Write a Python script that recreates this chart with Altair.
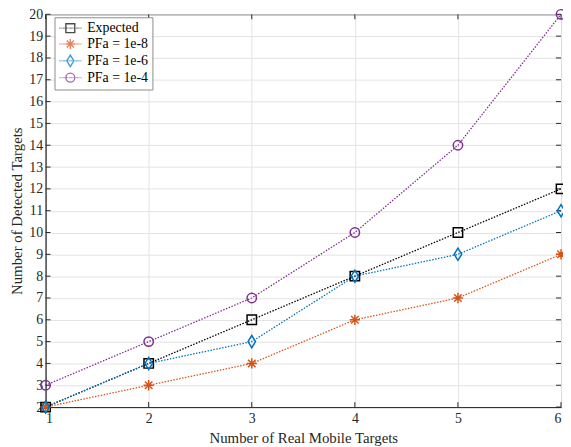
import re
import altair as alt
import pandas as pd

x_vals = [1, 2, 3, 4, 5, 6]
y_ticks = list(range(2, 21))
series_names = ["Expected", "PFa = 1e-8", "PFa = 1e-6", "PFa = 1e-4"]
expected = [2, 4, 6, 8, 10, 12]
pfa_1e8 = [2, 3, 4, 6, 7, 9]
pfa_1e6 = [2, 4, 5, 8, 9, 11]
pfa_1e4 = [3, 5, 7, 10, 14, 20]
colors = ["#000000", "#D95319", "#0072BD", "#7E2F8E"]

rows = []
for name, vals in zip(series_names, [expected, pfa_1e8, pfa_1e6, pfa_1e4]):
    for xv, yv in zip(x_vals, vals):
        rows.append({"x": xv, "y": yv, "series": name})
df = pd.DataFrame(rows)
xt = pd.DataFrame({"x": x_vals})
yt = pd.DataFrame({"y": y_ticks})

sq = "M-1,-1H1V1H-1Z"
ast = "M0,-1.1V1.1M-1.1,0H1.1M-0.8,-0.8L0.8,0.8M-0.8,0.8L0.8,-0.8"
dia = "M0,-1.3L0.8,0L0,1.3L-0.8,0Z"
circ = "M1,0A1,1,0,1,1,-1,0A1,1,0,1,1,1,0Z"
markers = [sq, ast, dia, circ]


def small(p, k):
    res = ""
    cmd = None
    argi = 0
    for t in re.findall(r"[A-Za-z]|-?\d*\.?\d+|,", p):
        if re.match(r"[A-Za-z]", t):
            cmd = t
            argi = 0
            res += t
        elif t == ",":
            res += ","
        else:
            v = float(t)
            if cmd == "A" and (argi % 7) in (2, 3, 4):
                res += t
            else:
                res += f"{v * k:.3f}"
            argi += 1
            if cmd in ("H", "V"):
                res += " "
            elif cmd in ("M", "L") and argi % 2 == 0:
                res += " "
    return res


# legend symbol: dotted line spanning -2.2..2.2 units plus a marker
dots = "".join(f"M{-2.2 + i * 0.24:.3f},0H{-2.2 + i * 0.24 + 0.12:.3f}" for i in range(19))
legend_paths = [dots + small(m, 0.9) for m in markers]

color_scale = alt.Scale(domain=series_names, range=colors)
xs = alt.Scale(domain=[1, 6], nice=False)
ys = alt.Scale(domain=[2, 20], nice=False)
x_axis = alt.Axis(values=x_vals, title="Number of Real Mobile Targets", grid=True,
                  format="d", ticks=False, labelOverlap=False)
y_axis = alt.Axis(values=y_ticks, title="Number of Detected Targets",
                  grid=True, format="d", ticks=False, labelOverlap=False)

base = alt.Chart(df)

lines = base.mark_line(strokeDash=[1.5, 1.5], strokeWidth=1.3).encode(
    x=alt.X("x:Q", scale=xs, axis=x_axis),
    y=alt.Y("y:Q", scale=ys, axis=y_axis),
    color=alt.Color("series:N", scale=color_scale, legend=None),
)

points = base.mark_point(filled=False, strokeWidth=1.5, size=90, opacity=1).encode(
    x=alt.X("x:Q", scale=xs, axis=x_axis),
    y=alt.Y("y:Q", scale=ys, axis=y_axis),
    color=alt.Color("series:N", scale=color_scale, legend=None),
    shape=alt.Shape("series:N", scale=alt.Scale(domain=series_names, range=markers), legend=None),
)

legend_layer = base.transform_filter("false").mark_point(filled=False).encode(
    x=alt.X("x:Q", scale=xs, axis=x_axis),
    y=alt.Y("y:Q", scale=ys, axis=y_axis),
    stroke=alt.Stroke("series:N", scale=alt.Scale(domain=series_names, range=colors),
                      legend=alt.Legend(title=None, orient="none", legendX=9, legendY=3,
                                        symbolSize=100, symbolStrokeWidth=1.4,
                                        labelFont="Liberation Serif", labelFontSize=14,
                                        labelColor="#000000", rowPadding=0,
                                        symbolOffset=5, labelOffset=10,
                                        strokeColor="#8c8c8c", fillColor="white",
                                        padding=4, offset=0)),
    shape=alt.Shape("series:N", scale=alt.Scale(domain=series_names, range=legend_paths)),
)

tick_color = "#262626"
y_left = alt.Chart(yt).mark_rule(color=tick_color, strokeWidth=1).encode(
    y=alt.Y("y:Q", scale=ys, axis=y_axis), x=alt.value(0), x2=alt.value(5))
y_right = alt.Chart(yt).mark_rule(color=tick_color, strokeWidth=1).encode(
    y=alt.Y("y:Q", scale=ys, axis=y_axis), x=alt.value(516), x2=alt.value(521))
x_bot = alt.Chart(xt).mark_rule(color=tick_color, strokeWidth=1).encode(
    x=alt.X("x:Q", scale=xs, axis=x_axis), y=alt.value(397), y2=alt.value(392))
x_top = alt.Chart(xt).mark_rule(color=tick_color, strokeWidth=1).encode(
    x=alt.X("x:Q", scale=xs, axis=x_axis), y=alt.value(0), y2=alt.value(5))

chart = alt.layer(lines, y_left, y_right, x_bot, x_top, points, legend_layer).resolve_scale(
    shape="independent", stroke="independent"
).properties(
    width=521, height=397,
    autosize=alt.AutoSizeParams(type="none"),
    padding={"left": 38, "top": 4, "right": 2, "bottom": 40},
).configure_axis(
    labelFont="Liberation Serif", labelFontSize=14, labelColor="#262626",
    titleFont="Liberation Serif", titleFontSize=15, titleColor="#262626", titleFontWeight="normal",
    domainColor="#262626", gridColor="#e3e3e3", gridOpacity=1, labelPadding=3, titlePadding=4,
).configure_axisX(labelPadding=5, titlePadding=5).configure_view(stroke="#262626", strokeWidth=1)

chart.save("out.html", embed_options={"renderer": "svg", "actions": False})
